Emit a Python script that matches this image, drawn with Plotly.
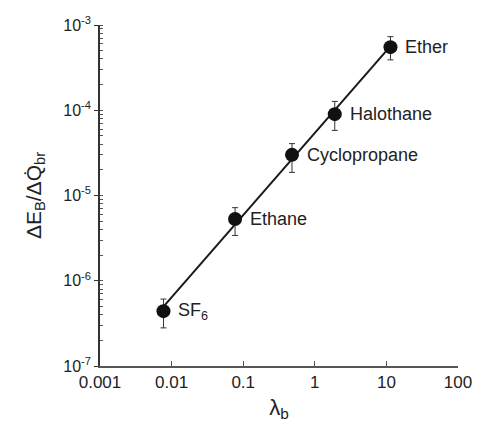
import numpy as np
import plotly.graph_objects as go

names = ["SF<sub>6</sub>", "Ethane", "Cyclopropane", "Halothane", "Ether"]
lam_b = [0.0077, 0.077, 0.48, 1.9, 11.4]
ratio = [4.4e-7, 5.3e-6, 3.0e-5, 9.0e-5, 5.5e-4]
err_hi = [6.1e-7, 7.2e-6, 4.06e-5, 1.27e-4, 7.3e-4]
err_lo = [2.8e-7, 3.4e-6, 1.87e-5, 5.8e-5, 3.9e-4]

x_tickvals = [0.001, 0.01, 0.1, 1, 10, 100]
x_ticktext = ["0.001", "0.01", "0.1", "1", "10", "100"]
y_tickvals = [1e-7, 1e-6, 1e-5, 1e-4, 1e-3]
y_ticktext = ["10<sup>-7</sup>", "10<sup>-6</sup>", "10<sup>-5</sup>", "10<sup>-4</sup>", "10<sup>-3</sup>"]

# fit line in log space
lx = np.log10(lam_b)
ly = np.log10(ratio)
p = np.polyfit(lx, ly, 1)
fx = np.array([min(lam_b), max(lam_b)])
fy = 10 ** np.polyval(p, np.log10(fx))

fig = go.Figure()
fig.add_trace(go.Scatter(x=fx, y=fy, mode="lines",
                         line=dict(color="#1a1a1a", width=2), showlegend=False,
                         hoverinfo="skip"))
fig.add_trace(go.Scatter(
    x=lam_b, y=ratio, mode="markers",
    marker=dict(color="#111111", size=14),
    error_y=dict(type="data", symmetric=False,
                 array=[h - v for h, v in zip(err_hi, ratio)],
                 arrayminus=[v - l for v, l in zip(ratio, err_lo)],
                 color="#333333", thickness=1, width=3),
    showlegend=False))

for n, x, y in zip(names, lam_b, ratio):
    fig.add_annotation(x=np.log10(x), y=np.log10(y), text=n, showarrow=False,
                       xanchor="left", yanchor="middle", xshift=13,
                       font=dict(size=18, color="#222222"))

axis_font = dict(family="Liberation Sans, Arial, sans-serif", size=17, color="#222222")
fig.update_xaxes(type="log", range=[-3, 2], tickvals=x_tickvals, ticktext=x_ticktext,
                 ticks="inside", ticklen=5, tickcolor="#555555",
                 showline=True, linecolor="#555555", linewidth=1.5,
                 showgrid=False, zeroline=False, tickfont=axis_font,
                 title=dict(text="λ<sub>b</sub>", font=dict(size=22, color="#222222"), standoff=8))
fig.update_yaxes(type="log", range=[-7, -3], tickvals=y_tickvals, ticktext=y_ticktext,
                 ticks="outside", ticklen=4, tickcolor="#333333",
                 minor=dict(ticks="inside", ticklen=3, tickcolor="#555555", dtick="D1", showgrid=False),
                 showline=True, linecolor="#333333", linewidth=1.5,
                 showgrid=False, zeroline=False, tickfont=dict(family="Liberation Sans, Arial, sans-serif", size=16, color="#222222"),
                 title=dict(text="ΔE<sub>B</sub>/ΔQ\u0307<sub>br</sub>", font=dict(size=21, color="#222222"), standoff=16))

fig.update_layout(width=484, height=428, plot_bgcolor="white", paper_bgcolor="white",
                  margin=dict(l=100, r=17, t=25, b=61),
                  font=dict(family="Liberation Sans, Arial, sans-serif", color="#222222"))

fig.write_html("out.html")
